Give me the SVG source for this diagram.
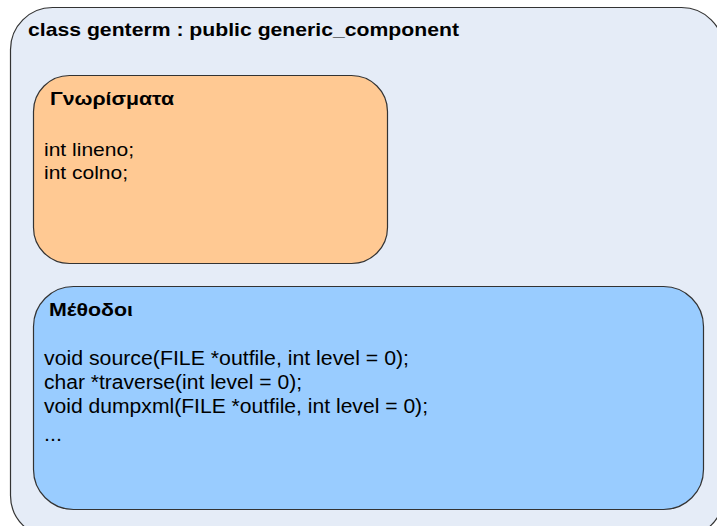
<svg xmlns="http://www.w3.org/2000/svg" width="717" height="526" viewBox="0 0 717 526">
<style>
.box{stroke:#333;stroke-width:1.2}
.t{font-family:"Liberation Sans",Arial,sans-serif;fill:#000}
.b{font-weight:bold}
.s{font-size:19px}
.m{font-size:20px}
</style>
<rect width="717" height="526" fill="#ffffff"/>
<g id="class_genterm">
<rect class="box" x="10.5" y="7.5" width="713" height="530" rx="42" ry="42" fill="#E5ECF7"/>
<text class="t b" x="28" y="36" font-size="19" textLength="431" lengthAdjust="spacingAndGlyphs">class genterm : public generic_component</text>
</g>
<g id="attributes">
<rect class="box" x="33.5" y="75.5" width="354" height="188" rx="36" ry="36" fill="#FFC993"/>
<text class="t b s" x="50" y="105" textLength="124" lengthAdjust="spacingAndGlyphs">Γνωρίσματα</text>
<text class="t s" x="44" y="156" textLength="90" lengthAdjust="spacingAndGlyphs">int lineno;</text>
<text class="t s" x="44" y="179" textLength="84" lengthAdjust="spacingAndGlyphs">int colno;</text>
</g>
<g id="methods">
<rect class="box" x="33.5" y="286.5" width="670" height="223" rx="40" ry="40" fill="#99CCFF"/>
<text class="t b s" x="49" y="316" textLength="84" lengthAdjust="spacingAndGlyphs">Μέθοδοι</text>
<text class="t m" x="44" y="365" textLength="365" lengthAdjust="spacingAndGlyphs">void source(FILE *outfile, int level = 0);</text>
<text class="t m" x="44" y="389" textLength="258" lengthAdjust="spacingAndGlyphs">char *traverse(int level = 0);</text>
<text class="t m" x="44" y="413" textLength="384" lengthAdjust="spacingAndGlyphs">void dumpxml(FILE *outfile, int level = 0);</text>
<text class="t m" x="44" y="441" textLength="18" lengthAdjust="spacingAndGlyphs">...</text>
</g>
<g id="connectors"></g>
</svg>
